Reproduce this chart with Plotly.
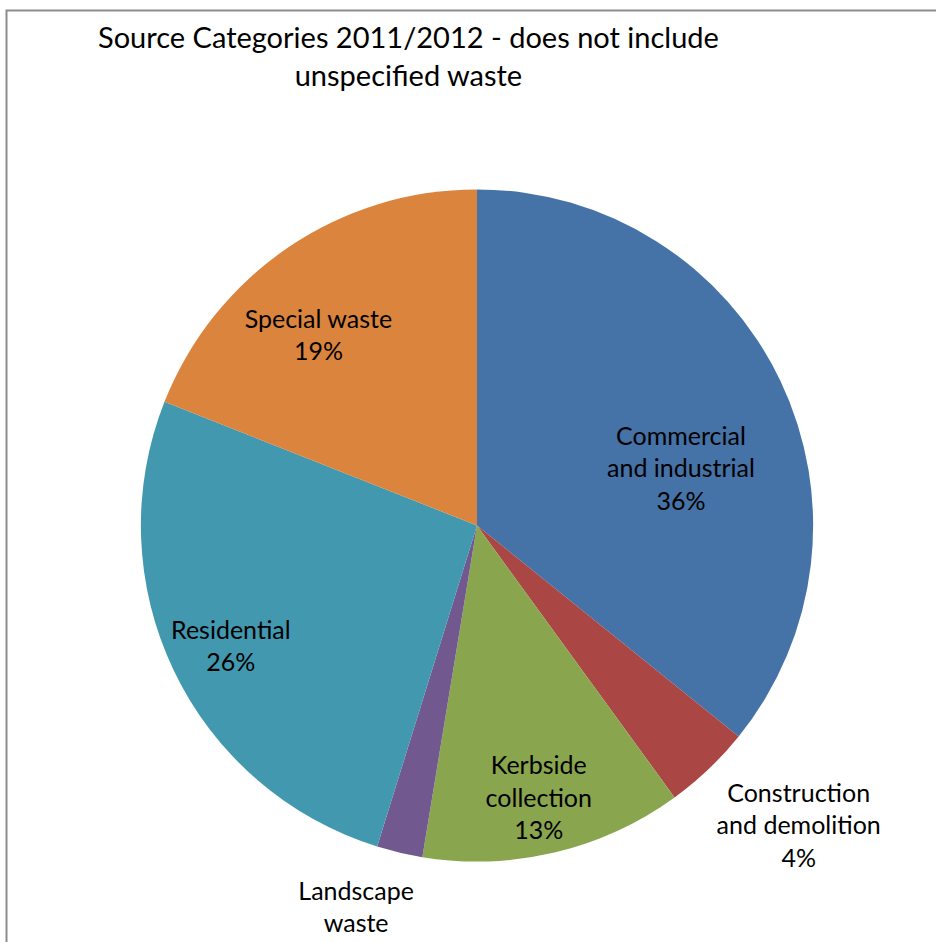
import plotly.graph_objects as go

categories = ["Commercial and industrial", "Construction and demolition", "Kerbside collection",
              "Landscape waste", "Residential", "Special waste"]
label_text = ["Commercial<br>and industrial", "Construction<br>and demolition", "Kerbside<br>collection",
              "Landscape<br>waste", "Residential", "Special waste"]
values = [35.8, 4.2, 12.6, 2.2, 26.2, 19.0]
colors = ["#4572A7", "#AA4643", "#89A54E", "#71588F", "#4198AF", "#DB843D"]

W, H = 936, 942
cx, cy = 477, 530
R_PIE = 339          # domain half-size of the coloured pie
FONT = dict(family="Lato", size=25, color="#000000")
WITH_PCT = "%{text}<br>%{percent:.0%}"
NO_PCT = "%{text}"   # percent line of this label falls below the visible frame

# label layers: (slice index, placement, layer radius, rotation, hole, template)
label_layers = [
    (0, "inside", 407, 9.6, 0.0, WITH_PCT),
    (5, "inside", 392, -5.4, 0.0, WITH_PCT),
    (2, "inside", 389, 0.5, 0.0, WITH_PCT),
    (4, "inside", 410, -0.3, 0.346, WITH_PCT),
    (1, "outside", 348.5, 4.9, 0.0, WITH_PCT),
    (3, "outside", 356, -5.6, 0.0, NO_PCT),
]


def dom(r):
    return dict(x=[(cx - r) / W, (cx + r) / W], y=[(H - cy - r) / H, (H - cy + r) / H])


def pie(r, positions, visible_marks, rotation=0, hole=0, template=WITH_PCT):
    return go.Pie(
        labels=categories,
        values=values,
        text=label_text,
        texttemplate=template,
        textposition=positions,
        insidetextorientation="horizontal",
        sort=False,
        direction="clockwise",
        rotation=rotation,
        hole=hole,
        marker=dict(colors=colors if visible_marks else ["rgba(0,0,0,0)"] * len(values),
                    line=dict(width=0)),
        textfont=FONT,
        showlegend=False,
        hoverinfo="label+percent" if visible_marks else "skip",
        domain=dom(r),
    )


traces = [pie(R_PIE, ["none"] * len(values), True)]
for idx, place, r, rot, hole, tpl in label_layers:
    pos = ["none"] * len(values)
    pos[idx] = place
    traces.append(pie(r, pos, False, rotation=rot, hole=hole, template=tpl))

fig = go.Figure(traces)

fig.update_layout(
    width=W, height=H,
    margin=dict(l=0, r=0, t=0, b=0),
    paper_bgcolor="white",
    annotations=[dict(text="Source Categories 2011/2012 - does not include<br>unspecified waste",
                      xref="paper", yref="paper", x=408 / W, xanchor="center",
                      y=1 - 56 / H, yanchor="middle", showarrow=False,
                      font=dict(family="Lato", size=29, color="#000000"))],
    shapes=[dict(type="rect", xref="paper", yref="paper",
                 x0=6.5 / W, x1=1.05, y0=-0.05, y1=1 - 10.5 / H,
                 line=dict(color="#8C8C8C", width=2))],
)

fig.write_html("out.html")
